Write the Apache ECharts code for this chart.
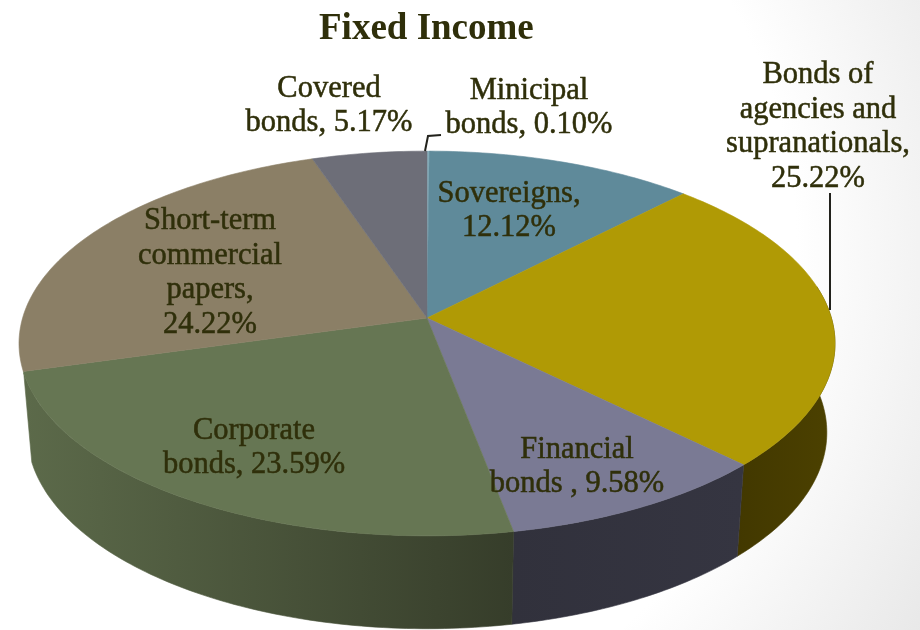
<!DOCTYPE html>
<html><head><meta charset="utf-8">
<style>html,body{margin:0;padding:0;background:#fff}#c{width:920px;height:630px}</style>
<script src="https://cdn.jsdelivr.net/npm/echarts@6/dist/echarts.min.js"></script>
</head><body><div id="c"></div>
<script>
const categories = ['Municipal bonds','Sovereigns','Bonds of agencies and supranationals','Financial bonds','Corporate bonds','Short-term commercial papers','Covered bonds'];
const values = [0.10,12.12,25.22,9.58,23.59,24.22,5.17];
const labelTexts = ['Minicipal\nbonds, 0.10%','Sovereigns,\n12.12%','Bonds of\nagencies and\nsupranationals,\n25.22%','Financial\nbonds , 9.58%','Corporate\nbonds, 23.59%','Short-term\ncommercial\npapers,\n24.22%','Covered\nbonds, 5.17%'];
const topColors = ['#8db4c0','#5f8a9a','#b09a05','#7a7a94','#667653','#8b7f66','#6d6e78'];
const rimColors = [['#3f5a64','#3f5a64'],['#3f5a64','#3f5a64'],['#423800','#4c4100'],['#31313c','#353541'],['#5c6a4a','#363d2a'],['#5c5444','#5c5444'],['#45464d','#45464d']];
const labelAnchors = [[529,108],[509,211],[818,127],[577,467],[254,448],[210,273],[329,106]];
const leaders = [[[425,151],[428,136],[441,135]],[[830,193],[830,310]]];
const G = {cx:427, cy:318, a:189, b:404.4, k:0.1325, midY:343, rimX:0.98, rimY:1.02, rimMidY:432, rimFrom:1.4, rimTo:4.43};
const INK = '#2f2f0a';

function topPt(t){
  const u=Math.sin(t), v=-Math.cos(t), w=1-G.k*v;
  return [G.cx+G.b*u/w, G.cy+G.a*v/w];
}
function botPt(t){
  const p=topPt(t);
  return [G.cx+(p[0]-G.cx)*G.rimX, G.rimMidY+(p[1]-G.midY)*G.rimY];
}
function arc(fn,t0,t1){
  const n=Math.max(2,Math.ceil((t1-t0)*60)), out=[];
  for(let s=0;s<=n;s++) out.push(fn(t0+(t1-t0)*s/n));
  return out;
}
const total = values.reduce((s,v)=>s+v,0);
function renderItem(params, api){
  const i = params.dataIndex;
  let before = 0;
  for(let j=0;j<i;j++) before += values[j];
  const t0 = before/total*2*Math.PI, t1 = (before+api.value(0))/total*2*Math.PI;
  const children = [
    {type:'polygon',z2:10,shape:{points:[[G.cx,G.cy]].concat(arc(topPt,t0,t1))},
      style:{fill:topColors[i],stroke:topColors[i],lineWidth:0.6}},
    {type:'text',z2:30,x:labelAnchors[i][0],y:labelAnchors[i][1],
      style:{text:labelTexts[i],fill:INK,stroke:INK,lineWidth:0.5,font:'30.5px "Liberation Serif"',
        lineHeight:34.5,align:'center',verticalAlign:'middle'}}
  ];
  const r0 = Math.max(t0,G.rimFrom), r1 = Math.min(t1,G.rimTo);
  if(r1>r0){
    const a=arc(topPt,r0,r1), b=arc(botPt,r0,r1);
    const xs=a.concat(b).map(p=>p[0]);
    const grad=new echarts.graphic.LinearGradient(Math.min(...xs),0,Math.max(...xs),0,[
      {offset:0,color:rimColors[i][0]},{offset:1,color:rimColors[i][1]}],true);
    children.unshift({type:'polygon',z2:1,shape:{points:a.concat(b.reverse())},
      style:{fill:grad,stroke:grad,lineWidth:0.6}});
  }
  return {type:'group',children};
}
const chart = echarts.init(document.getElementById('c'),null,{renderer:'canvas',width:920,height:630});
chart.setOption({
  animation:false,
  backgroundColor:{type:'radial',x:300,y:250,r:730,global:true,colorStops:[
    {offset:0,color:'#ffffff'},{offset:0.68,color:'#ffffff'},{offset:1,color:'#e8e8e8'}]},
  title:{text:'Fixed Income',left:314,top:6,
    textStyle:{fontFamily:'Liberation Serif',fontWeight:'bold',fontSize:37,color:INK}},
  series:[
    {type:'custom',coordinateSystem:'none',silent:true,renderItem,
      data:values.map((v,i)=>({name:categories[i],value:[v]}))}
  ],
  graphic:leaders.map(pts=>({type:'polyline',z:100,silent:true,shape:{points:pts},
    style:{stroke:'#22221c',lineWidth:2,fill:null}}))
});
</script></body></html>
